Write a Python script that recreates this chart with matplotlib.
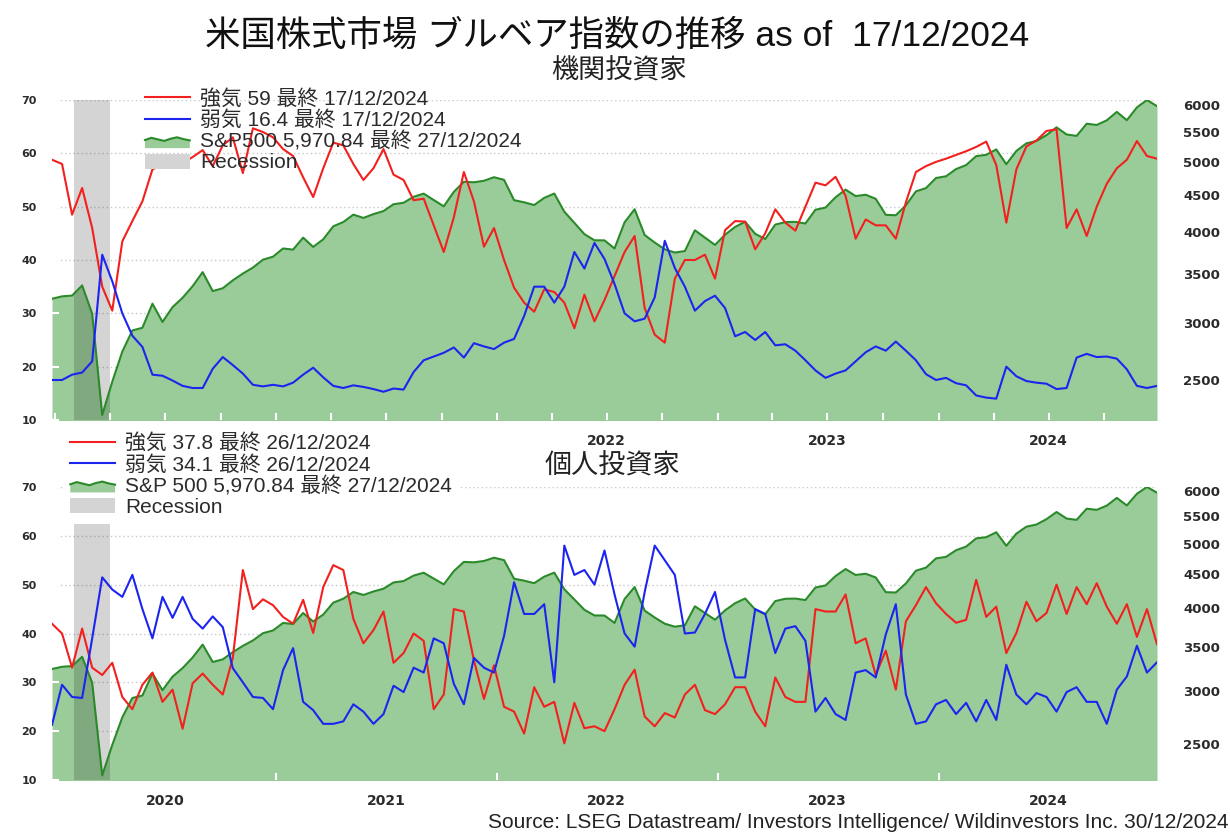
import numpy as np
import pandas as pd
import matplotlib
matplotlib.use("Agg")
import matplotlib.pyplot as plt
import matplotlib.dates as mdates
from matplotlib.ticker import FixedLocator, FixedFormatter, NullFormatter, NullLocator
from matplotlib.transforms import blended_transform_factory
from matplotlib.legend_handler import HandlerBase
from matplotlib.patches import Polygon, Patch
from matplotlib.lines import Line2D

# ---------------------------------------------------------------- data
dates = pd.date_range("2019-12-27", "2024-12-27", periods=111)

sp500 = [3240, 3265, 3273, 3380, 3090, 2240, 2490, 2740, 2930, 2955,
         3190, 3010, 3155, 3250, 3372, 3526, 3320, 3350, 3435, 3510,
         3577, 3668, 3703, 3801, 3787, 3934, 3820, 3913, 4078, 4134,
         4232, 4188, 4239, 4280, 4374, 4395, 4479, 4524, 4433, 4345,
         4549, 4697, 4690, 4712, 4766, 4726, 4431, 4401, 4363, 4463,
         4525, 4272, 4123, 3978, 3901, 3900, 3801, 4130, 4305, 3967,
         3873, 3791, 3752, 3770, 4027, 3934, 3844, 3970, 4070, 4137,
         3982, 3917, 4100, 4133, 4136, 4115, 4298, 4328, 4472, 4582,
         4489, 4508, 4450, 4229, 4224, 4358, 4556, 4604, 4754, 4780,
         4891, 4953, 5096, 5117, 5205, 4967, 5180, 5307, 5347, 5447,
         5584, 5459, 5434, 5648, 5626, 5709, 5864, 5712, 5948, 6090,
         5971]

inst_bull = [58.8, 58, 48.5, 53.5, 46, 35, 30.5, 43.5, 47.3, 51,
             57, 57.8, 58.2, 58.2, 59.3, 60.6, 57.6, 61.5, 63, 56.3,
             64.7, 64, 63, 60.8, 59.5, 55.5, 51.8, 57.2, 62, 61.5,
             58, 55, 57.2, 60.8, 56, 55, 51.2, 51.5, 46.5, 41.5,
             48, 56.5, 51, 42.5, 46, 40, 34.8, 32, 30.3, 34.5,
             34, 32, 27.2, 33.5, 28.5, 32.5, 37, 41.5, 44.5, 31,
             26, 24.5, 36.5, 40, 40, 41, 36.5, 45.6, 47.3, 47.2,
             42, 45, 49.5, 47, 45.5, 50, 54.5, 54, 55.6, 52,
             44, 47.6, 46.5, 46.5, 44, 50.8, 56.5, 57.6, 58.4, 59,
             59.7, 60.4, 61.2, 62.2, 57.8, 47, 57, 61.3, 62.4, 64.2,
             64.5, 46, 49.5, 44.5, 50, 54.3, 57.2, 58.8, 62.3, 59.5,
             59]

inst_bear = [17.5, 17.5, 18.5, 18.9, 21, 41, 36, 30, 25.8, 23.7,
             18.5, 18.3, 17.4, 16.4, 16, 16, 19.6, 21.8, 20.3, 18.7,
             16.6, 16.3, 16.6, 16.3, 17, 18.5, 19.8, 18, 16.4, 16,
             16.5, 16.2, 15.8, 15.3, 15.9, 15.7, 19, 21.2, 21.9, 22.6,
             23.6, 21.7, 24.4, 23.8, 23.3, 24.5, 25.2, 29.5, 35, 35,
             32, 35, 41.5, 38.4, 43.2, 40.2, 35.5, 30, 28.5, 29,
             33, 43.6, 38.5, 35, 30.5, 32.3, 33.3, 31, 25.7, 26.5,
             25, 26.5, 24, 24.2, 23, 21.2, 19.3, 17.9, 18.7, 19.3,
             21, 22.7, 23.8, 23, 24.7, 23, 21.2, 18.6, 17.5, 17.9,
             16.9, 16.5, 14.6, 14.2, 14, 20, 18.2, 17.3, 17, 16.8,
             15.8, 16, 21.7, 22.4, 21.8, 21.9, 21.5, 19.5, 16.4, 16,
             16.4]

indiv_bull = [42, 40, 33, 41, 33, 31.5, 34, 27, 24.5, 29.5,
              32, 26, 28.5, 20.5, 29.8, 31.8, 29.5, 27.5, 35, 53,
              45, 47, 45.8, 43.4, 42, 46.9, 40.1, 49.5, 54, 53,
              43, 38, 40.7, 44.5, 34, 36, 40, 38.5, 24.5, 27.5,
              45, 44.5, 34.5, 26.6, 33.5, 25, 24, 19.5, 29, 25,
              26, 17.5, 25.8, 20.6, 21, 20, 24.5, 29.5, 32.6, 23,
              21, 23.7, 22.8, 27.5, 29.5, 24.3, 23.5, 25.5, 29, 29,
              24, 21, 31, 27, 26, 26, 45, 44.5, 44.5, 48,
              38, 39, 31.5, 36.5, 28.5, 42.5, 45.8, 49.5, 46.2, 44,
              42.2, 42.8, 51, 43.4, 45.5, 36, 40.1, 46.5, 42.5, 44.2,
              50, 44, 49.5, 46, 50.3, 45.5, 42, 46, 39.3, 45,
              37.8]

indiv_bear = [21.3, 29.5, 27, 26.8, 39, 51.5, 49, 47.5, 52, 45,
              39, 47.5, 43.2, 47.5, 43, 41, 43.5, 41.3, 32.9, 30,
              27, 26.8, 24.5, 32.5, 37, 26, 24.3, 21.5, 21.5, 22,
              25.5, 24, 21.5, 23.5, 29.3, 28, 33, 32, 39, 38,
              29.7, 25.5, 35, 33, 32, 39.5, 50.5, 44, 44, 46,
              30, 58, 52, 53, 50, 57, 48, 40, 37.3, 48.5,
              58, 55, 52, 40, 40.2, 44, 48.5, 38.7, 31, 31,
              45, 44, 36, 41, 41.5, 38.5, 24, 26.8, 23.5, 22.3,
              32, 32.5, 31, 39.8, 46, 27.5, 21.5, 22, 25.5, 26.4,
              23.5, 25.8, 22, 26.4, 22.3, 33.6, 27.5, 25.5, 27.8, 27,
              24, 28, 29, 26, 26, 21.5, 28.5, 31.2, 37.5, 32,
              34.1]

recession = ("2020-02-01", "2020-04-01")
years = ["2020", "2021", "2022", "2023", "2024"]
left_ticks = [10, 20, 30, 40, 50, 60, 70]
right_ticks = [2500, 3000, 3500, 4000, 4500, 5000, 5500, 6000]

panels = [
    dict(name="機関投資家", bull=inst_bull, bear=inst_bear,
         bull_label="強気 59 最終 17/12/2024",
         bear_label="弱気 16.4 最終 17/12/2024",
         sp_label="S&P500 5,970.84 最終 27/12/2024",
         year_labels=["", "", "2022", "2023", "2024"]),
    dict(name="個人投資家", bull=indiv_bull, bear=indiv_bear,
         bull_label="強気 37.8 最終 26/12/2024",
         bear_label="弱気 34.1 最終 26/12/2024",
         sp_label="S&P 500 5,970.84 最終 27/12/2024",
         year_labels=years),
]

# ---------------------------------------------------------------- style
RED = "#f2201e"
BLUE = "#1c24f0"
FILL = "#9acc99"
SPLINE = "#2a8a2a"
BAND = "#d4d4d4"
TXT = "#2b2b2b"
FONT = ["Liberation Sans", "Noto Sans CJK JP", "DejaVu Sans"]
plt.rcParams["font.family"] = FONT

W, H = 1230, 832
fig = plt.figure(figsize=(W / 100, H / 100), dpi=100)


def axes_px(left, top, right, bottom):
    return fig.add_axes([left / W, 1 - bottom / H, (right - left) / W, (bottom - top) / H])


class AreaIcon:
    """Legend stand-in for the S&P 500 area."""


class AreaHandler(HandlerBase):
    def create_artists(self, legend, orig_handle, xdescent, ydescent,
                       width, height, fontsize, trans):
        xs = np.linspace(-xdescent, -xdescent + width, 8)
        prof = np.array([0.45, 0.62, 0.5, 0.38, 0.55, 0.66, 0.52, 0.42])
        top = -ydescent + height * (0.15 + 0.85 * prof)
        base = np.full_like(xs, -ydescent)
        verts = np.column_stack([np.r_[xs, xs[::-1]], np.r_[top, base[::-1]]])
        poly = Polygon(verts, closed=True, facecolor=FILL, edgecolor="none",
                       transform=trans)
        line = Line2D(xs, top, color=SPLINE, lw=1.5, transform=trans)
        return [poly, line]


quarters = pd.date_range("2020-01-01", "2024-12-31", freq="QS")
year_starts = pd.date_range("2021-01-01", "2024-12-31", freq="YS")
mid_years = pd.to_datetime([f"{y}-07-01" for y in years])

boxes = [(52, 100, 1157, 420), (52, 487, 1157, 780)]
tick_sets = [quarters, year_starts]

for k, (p, box) in enumerate(zip(panels, boxes)):
    ax = axes_px(*box)
    ax2 = ax.twinx()

    # S&P 500 area on the log-scaled right axis
    ax2.set_yscale("log")
    ax2.set_ylim(2205, 6090)
    ax2.fill_between(dates, sp500, 1500, color=FILL, lw=0, zorder=1)
    ax2.plot(dates, sp500, color=SPLINE, lw=1.5, zorder=3)
    ax2.axvspan(pd.Timestamp(recession[0]), pd.Timestamp(recession[1]),
                color="black", alpha=0.17, lw=0, zorder=2)

    # dotted guide lines at the left-axis levels, kept behind the area
    gtrans = blended_transform_factory(ax2.transAxes, ax.transData)
    for v in left_ticks[1:]:
        ax2.plot([0, 1], [v, v], transform=gtrans, ls=(0, (1, 2)),
                 color="#c9c9c9", lw=1.0, zorder=0.5)

    # sentiment lines on the left axis, drawn above the area
    ax.set_zorder(ax2.get_zorder() + 1)
    ax.patch.set_visible(False)
    ax.plot(dates, p["bull"], color=RED, lw=1.5, zorder=3)
    ax.plot(dates, p["bear"], color=BLUE, lw=1.5, zorder=3)
    ax.set_ylim(10, 70)
    ax.set_xlim(dates[0], dates[-1])

    for a in (ax, ax2):
        for s in a.spines.values():
            s.set_visible(False)

    ax.set_yticks(left_ticks)
    ax.tick_params(axis="y", direction="in", color="white", length=5, width=1.5,
                   pad=11, labelsize=8, labelcolor=TXT)
    for t in ax.get_yticklabels():
        t.set_fontweight("bold")
        t.set_family("DejaVu Sans")

    ax2.yaxis.set_major_locator(FixedLocator(right_ticks))
    ax2.yaxis.set_major_formatter(FixedFormatter([str(v) for v in right_ticks]))
    ax2.yaxis.set_minor_locator(NullLocator())
    ax2.tick_params(axis="y", direction="in", color="white", length=0,
                    pad=19, labelsize=9.5, labelcolor=TXT)
    for t in ax2.get_yticklabels():
        t.set_fontweight("bold")
        t.set_family("DejaVu Sans")

    ax.xaxis.remove_overlapping_locs = False
    ax.xaxis.set_major_locator(FixedLocator(mdates.date2num(tick_sets[k])))
    ax.xaxis.set_major_formatter(NullFormatter())
    ax.xaxis.set_minor_locator(FixedLocator(mdates.date2num(mid_years)))
    ax.xaxis.set_minor_formatter(FixedFormatter(p["year_labels"]))
    ax.tick_params(axis="x", which="major", direction="in", color="white",
                   length=5, width=1.5)
    ax.tick_params(axis="x", which="minor", length=0, pad=10, labelsize=10,
                   labelcolor=TXT)
    for t in ax.xaxis.get_minorticklabels():
        t.set_fontweight("bold")
        t.set_family("DejaVu Sans")

    handles = [Line2D([], [], color=RED, lw=1.5),
               Line2D([], [], color=BLUE, lw=1.5),
               AreaIcon(),
               Patch(facecolor=BAND, edgecolor="none")]
    labels = [p["bull_label"], p["bear_label"], p["sp_label"], "Recession"]
    common = dict(handler_map={AreaIcon: AreaHandler()}, loc="upper left",
                  bbox_transform=fig.transFigure, borderaxespad=0,
                  prop={"family": FONT, "size": 15}, labelcolor=TXT,
                  handlelength=2.15, handleheight=0.75, handletextpad=0.5,
                  labelspacing=0.08)
    if k == 0:
        ax.legend(handles, labels, bbox_to_anchor=(145 / W, 1 - 89 / H),
                  frameon=False, borderpad=0, **common)
    else:
        ax.legend(handles, labels, bbox_to_anchor=(63 / W, 1 - 426 / H),
                  frameon=True, fancybox=False, facecolor="white",
                  edgecolor="none", framealpha=1, borderpad=0.35, **common)

# ---------------------------------------------------------------- text
fig.text(617 / W, 1 - 36 / H, "米国株式市場 ブルベア指数の推移 as of  17/12/2024",
         ha="center", va="center", fontsize=25.5, color="#111", family=FONT)
fig.text(619 / W, 1 - 72 / H, panels[0]["name"], ha="center", va="center",
         fontsize=19.5, color="#222", family=FONT)
fig.text(612 / W, 1 - 467 / H, panels[1]["name"], ha="center", va="center",
         fontsize=19.5, color="#222", family=FONT)
fig.text(1228 / W, 1 - 822 / H,
         "Source: LSEG Datastream/ Investors Intelligence/ Wildinvestors Inc. 30/12/2024",
         ha="right", va="center", fontsize=15, color="#222", family=FONT)

fig.savefig("out.png", dpi=100, facecolor="white")
